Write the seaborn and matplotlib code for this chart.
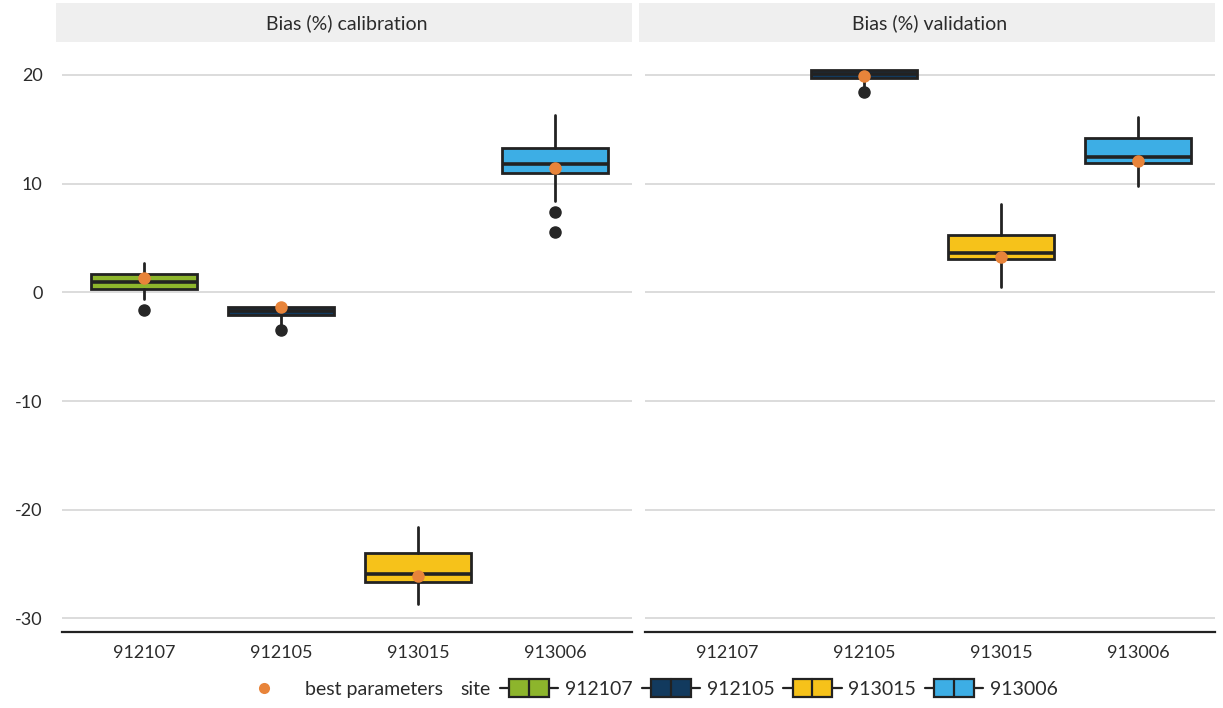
import numpy as np
import pandas as pd
import matplotlib
matplotlib.use("Agg")
import matplotlib.pyplot as plt
import seaborn as sns
from matplotlib.patches import Rectangle
from matplotlib.lines import Line2D
from matplotlib.legend_handler import HandlerBase

# ---- data -------------------------------------------------------------
sites = ["912107", "912105", "913015", "913006"]
site_colors = ["#8DB52C", "#123A5E", "#F6C21A", "#3DAEE5"]
panels = ["Bias (%) calibration", "Bias (%) validation"]

# calibration box statistics per site
cal_whislo = [-0.6, -3.1, -28.7, 8.4]
cal_q1 = [0.3, -2.1, -26.6, 10.95]
cal_med = [1.0, -1.7, -25.9, 11.8]
cal_q3 = [1.65, -1.3, -24.0, 13.25]
cal_whishi = [2.7, -1.3, -21.6, 16.3]
cal_fliers = [[-1.6], [-3.5], [], [7.4, 5.6]]
cal_best = [1.3, -1.3, -26.1, 11.4]

# validation box statistics per site (no validation for 912107)
val_whislo = [np.nan, 18.8, 0.5, 9.8]
val_q1 = [np.nan, 19.7, 3.1, 11.9]
val_med = [np.nan, 20.1, 3.6, 12.5]
val_q3 = [np.nan, 20.5, 5.3, 14.2]
val_whishi = [np.nan, 20.5, 8.1, 16.1]
val_fliers = [[], [18.4], [], []]
val_best = [np.nan, 19.9, 3.3, 12.1]

y_ticks = [20, 10, 0, -10, -20, -30]
best_color = "#E8843A"
ink = "#222222"
text_color = "#2b2b2b"

# ---- style ------------------------------------------------------------
sns.set_theme(style="white")
plt.rcParams["font.family"] = ["Lato", "DejaVu Sans"]
plt.rcParams["axes.unicode_minus"] = False
plt.rcParams["text.color"] = text_color
plt.rcParams["xtick.color"] = text_color
plt.rcParams["ytick.color"] = text_color


def box_stats(whislo, q1, med, q3, whishi, fliers):
    stats = []
    for i in range(len(sites)):
        if np.isnan(med[i]):
            continue
        stats.append(dict(whislo=whislo[i], q1=q1[i], med=med[i], q3=q3[i],
                          whishi=whishi[i], fliers=fliers[i]))
    return stats


fig = plt.figure(figsize=(12.23, 7.08), dpi=100)
ax_l = fig.add_axes([0.0507, 0.108, 0.466, 0.826])
ax_r = fig.add_axes([0.5274, 0.108, 0.466, 0.826], sharey=ax_l)

groups = [
    (ax_l, (cal_whislo, cal_q1, cal_med, cal_q3, cal_whishi, cal_fliers), cal_best),
    (ax_r, (val_whislo, val_q1, val_med, val_q3, val_whishi, val_fliers), val_best),
]

for (ax, stats_src, best), title in zip(groups, panels):
    stats = box_stats(*stats_src)
    present = [i for i in range(len(sites)) if not np.isnan(stats_src[2][i])]

    # best parameter points via seaborn on the categorical axis
    best_df = pd.DataFrame({"site": sites, "bias": best})
    sns.stripplot(data=best_df, x="site", y="bias", order=sites, jitter=False,
                  color=best_color, size=9, ax=ax, zorder=5, linewidth=0)

    bp = ax.bxp(stats, positions=present, widths=0.77, patch_artist=True,
                showcaps=False, manage_ticks=False,
                boxprops=dict(edgecolor=ink, linewidth=2),
                whiskerprops=dict(color=ink, linewidth=2),
                medianprops=dict(color=ink, linewidth=2.6),
                flierprops=dict(marker="o", markersize=8, markerfacecolor="#262626",
                                markeredgecolor="#262626"))
    for patch, idx in zip(bp["boxes"], present):
        patch.set_facecolor(site_colors[idx])
        patch.set_zorder(2)
    for art in bp["medians"]:
        art.set_zorder(3)

    ax.set_xlim(-0.6, 3.56)
    ax.set_ylim(-31.2, 22.6)
    ax.set_yticks(y_ticks)
    ax.set_xticks(range(len(sites)))
    ax.set_xticklabels(sites, fontsize=13)
    ax.set_xlabel("")
    ax.set_ylabel("")
    ax.grid(axis="y", color="#d6d6d6", linewidth=1.2)
    ax.grid(axis="x", visible=False)
    ax.set_axisbelow(True)
    for side in ["top", "right", "left"]:
        ax.spines[side].set_visible(False)
    ax.spines["bottom"].set_color(ink)
    ax.spines["bottom"].set_linewidth(1.6)
    ax.tick_params(axis="x", direction="in", length=6, width=1, color=ink, pad=10)
    ax.tick_params(axis="y", length=0, labelsize=13, pad=14)

    # facet strip
    strip = Rectangle((-0.01, 1.008), 1.01, 0.066, transform=ax.transAxes,
                      facecolor="#efefef", edgecolor="none", clip_on=False, zorder=0)
    ax.add_patch(strip)
    ax.text(0.5, 1.041, title, transform=ax.transAxes, ha="center", va="center",
            fontsize=14, color=text_color)

ax_r.tick_params(axis="y", labelleft=False)


# ---- legend -----------------------------------------------------------
class BoxKeyHandler(HandlerBase):
    def create_artists(self, legend, orig_handle, xdescent, ydescent, width,
                       height, fontsize, trans):
        y_mid = height / 2 - ydescent
        x0 = -xdescent
        whisk = Line2D([x0, x0 + width], [y_mid, y_mid], color=ink, lw=1.6,
                       transform=trans)
        bw = width * 0.68
        bh = height * 1.3
        bx = x0 + (width - bw) / 2
        rect = Rectangle((bx, y_mid - bh / 2), bw, bh,
                         facecolor=orig_handle.get_facecolor(), edgecolor=ink,
                         lw=1.6, transform=trans)
        mid = Line2D([x0 + width / 2] * 2, [y_mid - bh / 2, y_mid + bh / 2],
                     color=ink, lw=1.6, transform=trans)
        return [whisk, rect, mid]


best_handle = Line2D([], [], marker="o", linestyle="none", markersize=8,
                     markerfacecolor=best_color, markeredgecolor="none")
leg1 = fig.legend([best_handle], ["best parameters"], loc="center left",
                  bbox_to_anchor=(0.194, 0.026), frameon=False, fontsize=14,
                  handletextpad=1.1, borderaxespad=0)
fig.text(0.3765, 0.026, "site", ha="left", va="center", fontsize=14,
         color=text_color)
box_handles = [Rectangle((0, 0), 1, 1, facecolor=c) for c in site_colors]
leg2 = fig.legend(box_handles, sites, loc="center left",
                  bbox_to_anchor=(0.4025, 0.026), frameon=False, fontsize=14,
                  ncol=4, handlelength=3.0, handletextpad=0.35, columnspacing=0.45,
                  handler_map={Rectangle: BoxKeyHandler()}, borderaxespad=0)

fig.savefig("out.png", dpi=100, facecolor="white")
